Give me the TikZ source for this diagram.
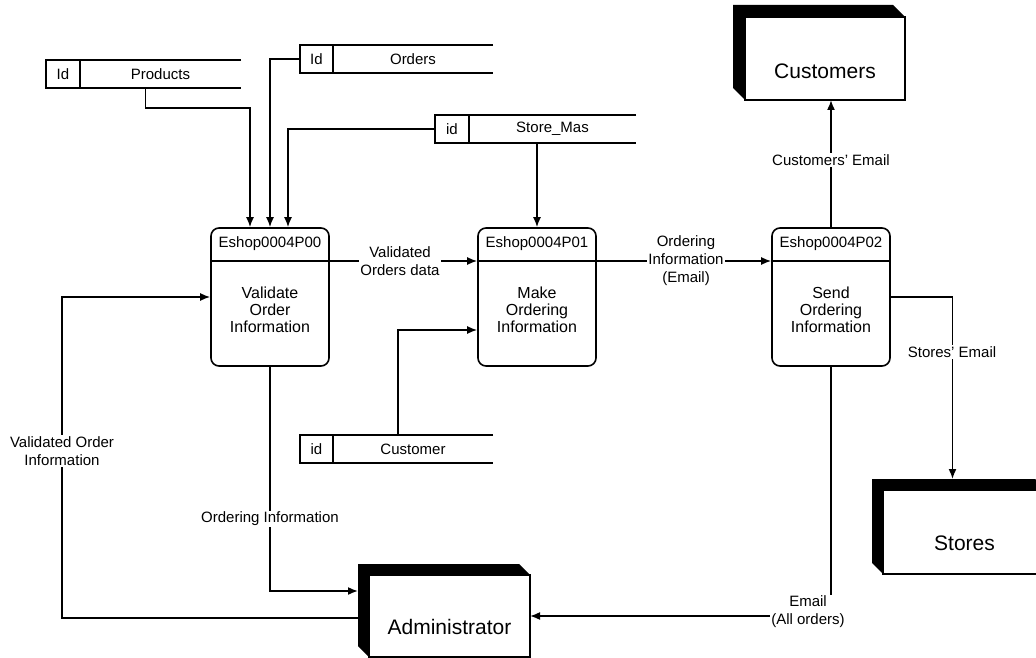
\documentclass[tikz,border=0pt]{standalone}
\usepackage{fontspec}
\setmainfont{Liberation Sans}
\usetikzlibrary{arrows.meta,calc}
\begin{document}
\begin{tikzpicture}[x=1pt,y=-1pt,line width=1.6pt,
  flow/.style={draw,-{Latex[length=10pt,width=8pt]}},
  proc/.style={draw,rounded corners=8pt,minimum width=118pt,minimum height=138pt,inner sep=0pt},
  ptitle/.style={inner sep=0pt,font=\fontsize{15}{17}\selectfont},
  pbody/.style={inner sep=0pt,align=center,font=\fontsize{16}{17}\selectfont},
  face/.style={draw,fill=white,inner sep=0pt,outer sep=0pt},
  ent/.style={inner sep=0pt,font=\fontsize{21}{24}\selectfont},
  cell/.style={inner sep=0pt,outer sep=0pt,minimum height=28pt,font=\fontsize{15}{17}\selectfont},
  lbl/.style={fill=white,inner sep=1.5pt,align=center,font=\fontsize{15}{18}\selectfont}]
\useasboundingbox (0,0) rectangle (1036,658);

% processes
\node[proc] (p0) at (270,297) {};
\node[proc] (p1) at (537,297) {};
\node[proc] (p2) at (831,297) {};
\foreach \p in {p0,p1,p2}{
  \draw ([yshift=36pt]\p.west) -- ([yshift=36pt]\p.east);
}
\node[ptitle] (p0t) at ([yshift=-16.5pt]p0.north) {Eshop0004P00};
\node[ptitle] (p1t) at ([yshift=-16.5pt]p1.north) {Eshop0004P01};
\node[ptitle] (p2t) at ([yshift=-16.5pt]p2.north) {Eshop0004P02};
\node[pbody] (p0b) at ([yshift=-13pt]p0.center) {Validate\\Order\\Information};
\node[pbody] (p1b) at ([yshift=-13pt]p1.center) {Make\\Ordering\\Information};
\node[pbody] (p2b) at ([yshift=-13pt]p2.center) {Send\\Ordering\\Information};

% data stores
\node[cell,minimum width=34pt] (prodid) at (63,74) {Id};
\node[cell,minimum width=161pt,anchor=west] (prod) at (prodid.east) {Products};
\node[cell,minimum width=33pt] (ordid) at (316.5,59) {Id};
\node[cell,minimum width=160pt,anchor=west] (ord) at (ordid.east) {Orders};
\node[cell,minimum width=34pt] (smid) at (452,129) {id};
\node[cell,minimum width=167pt,anchor=west] (sm) at (smid.east) {Store\_Mas};
\node[cell,minimum width=33pt] (custid) at (316.5,449) {id};
\node[cell,minimum width=160pt,anchor=west] (cust) at (custid.east) {Customer};
\foreach \i/\n in {prodid/prod,ordid/ord,smid/sm,custid/cust}{
  \draw (\n.north east) -- (\i.north west) -- (\i.south west) -- (\n.south east);
  \draw (\i.north east) -- (\i.south east);
}

% external entities
\node[face,minimum width=160pt,minimum height=83pt] (custf) at (825,58.5) {};
\fill (custf.south west) -- ++(-12,-12) -- ([shift={(-12,-12)}]custf.north west)
  -- ([shift={(-12,-12)}]custf.north east) -- (custf.north east) -- (custf.north west) -- cycle;
\node[ent] (custl) at ([yshift=-13pt]custf.center) {Customers};

\node[face,minimum width=163pt,minimum height=84pt] (storef) at (964.5,532) {};
\fill (storef.south west) -- ++(-11,-11) -- ([shift={(-11,-11)}]storef.north west)
  -- ([shift={(-11,-11)}]storef.north east) -- (storef.north east) -- (storef.north west) -- cycle;
\node[ent] (storel) at ([yshift=-11pt]storef.center) {Stores};

\node[face,minimum width=161pt,minimum height=82pt] (adminf) at (449.5,616) {};
\fill (adminf.south west) -- ++(-11,-11) -- ([shift={(-11,-11)}]adminf.north west)
  -- ([shift={(-11,-11)}]adminf.north east) -- (adminf.north east) -- (adminf.north west) -- cycle;
\node[ent] (adminl) at ([yshift=-11pt]adminf.center) {Administrator};

% coordinates
\coordinate (storein) at ([shift={(-12,-11)}]storef.north);
\coordinate (adminin) at ([shift={(-11,16)}]adminf.north west);
\coordinate (adminout) at ([shift={(-11,43)}]adminf.north west);
\coordinate (loopc) at (62,618);

% connectors
\draw[flow] ([xshift=-15pt]prod.south) -- ++(0,20) -| ([xshift=-20pt]p0.north);
\draw[flow] (ordid.west) -| (p0.north);
\draw[flow] (smid.west) -| ([xshift=18pt]p0.north);
\draw[flow] (sm.south -| p1.north) -- (p1.north);
\draw[flow] ([xshift=-15pt]cust.north) |- ([yshift=-33pt]p1.west);
\draw[flow] ([yshift=36pt]p0.east) -- ([yshift=36pt]p1.west);
\draw[flow] ([yshift=36pt]p1.east) -- ([yshift=36pt]p2.west);
\draw[flow] (p2.north) -- (p2.north |- custf.south);
\draw[flow] (p2.east) -| (storein);
\draw[flow] (p0.south) |- (adminin);
\draw[flow] (adminout) -- (loopc) |- (p0.west);
\draw[flow] (p2.south) |- (adminf.east);

% labels
\node[lbl] (l1) at (400,261) {Validated\\Orders data};
\node[lbl] (l2) at (686,261) {Ordering\\Information\\(Email)};
\node[lbl] (l3) at (831,160) {Customers' Email};
\node[lbl] (l4) at (952,352) {Stores' Email};
\node[lbl] (l5) at (270,519) {Ordering Information};
\node[lbl] (l6) at (62,451) {Validated Order\\Information};
\node[lbl] (l7) at (808,612) {Email\\(All orders)};
\end{tikzpicture}
\end{document}
